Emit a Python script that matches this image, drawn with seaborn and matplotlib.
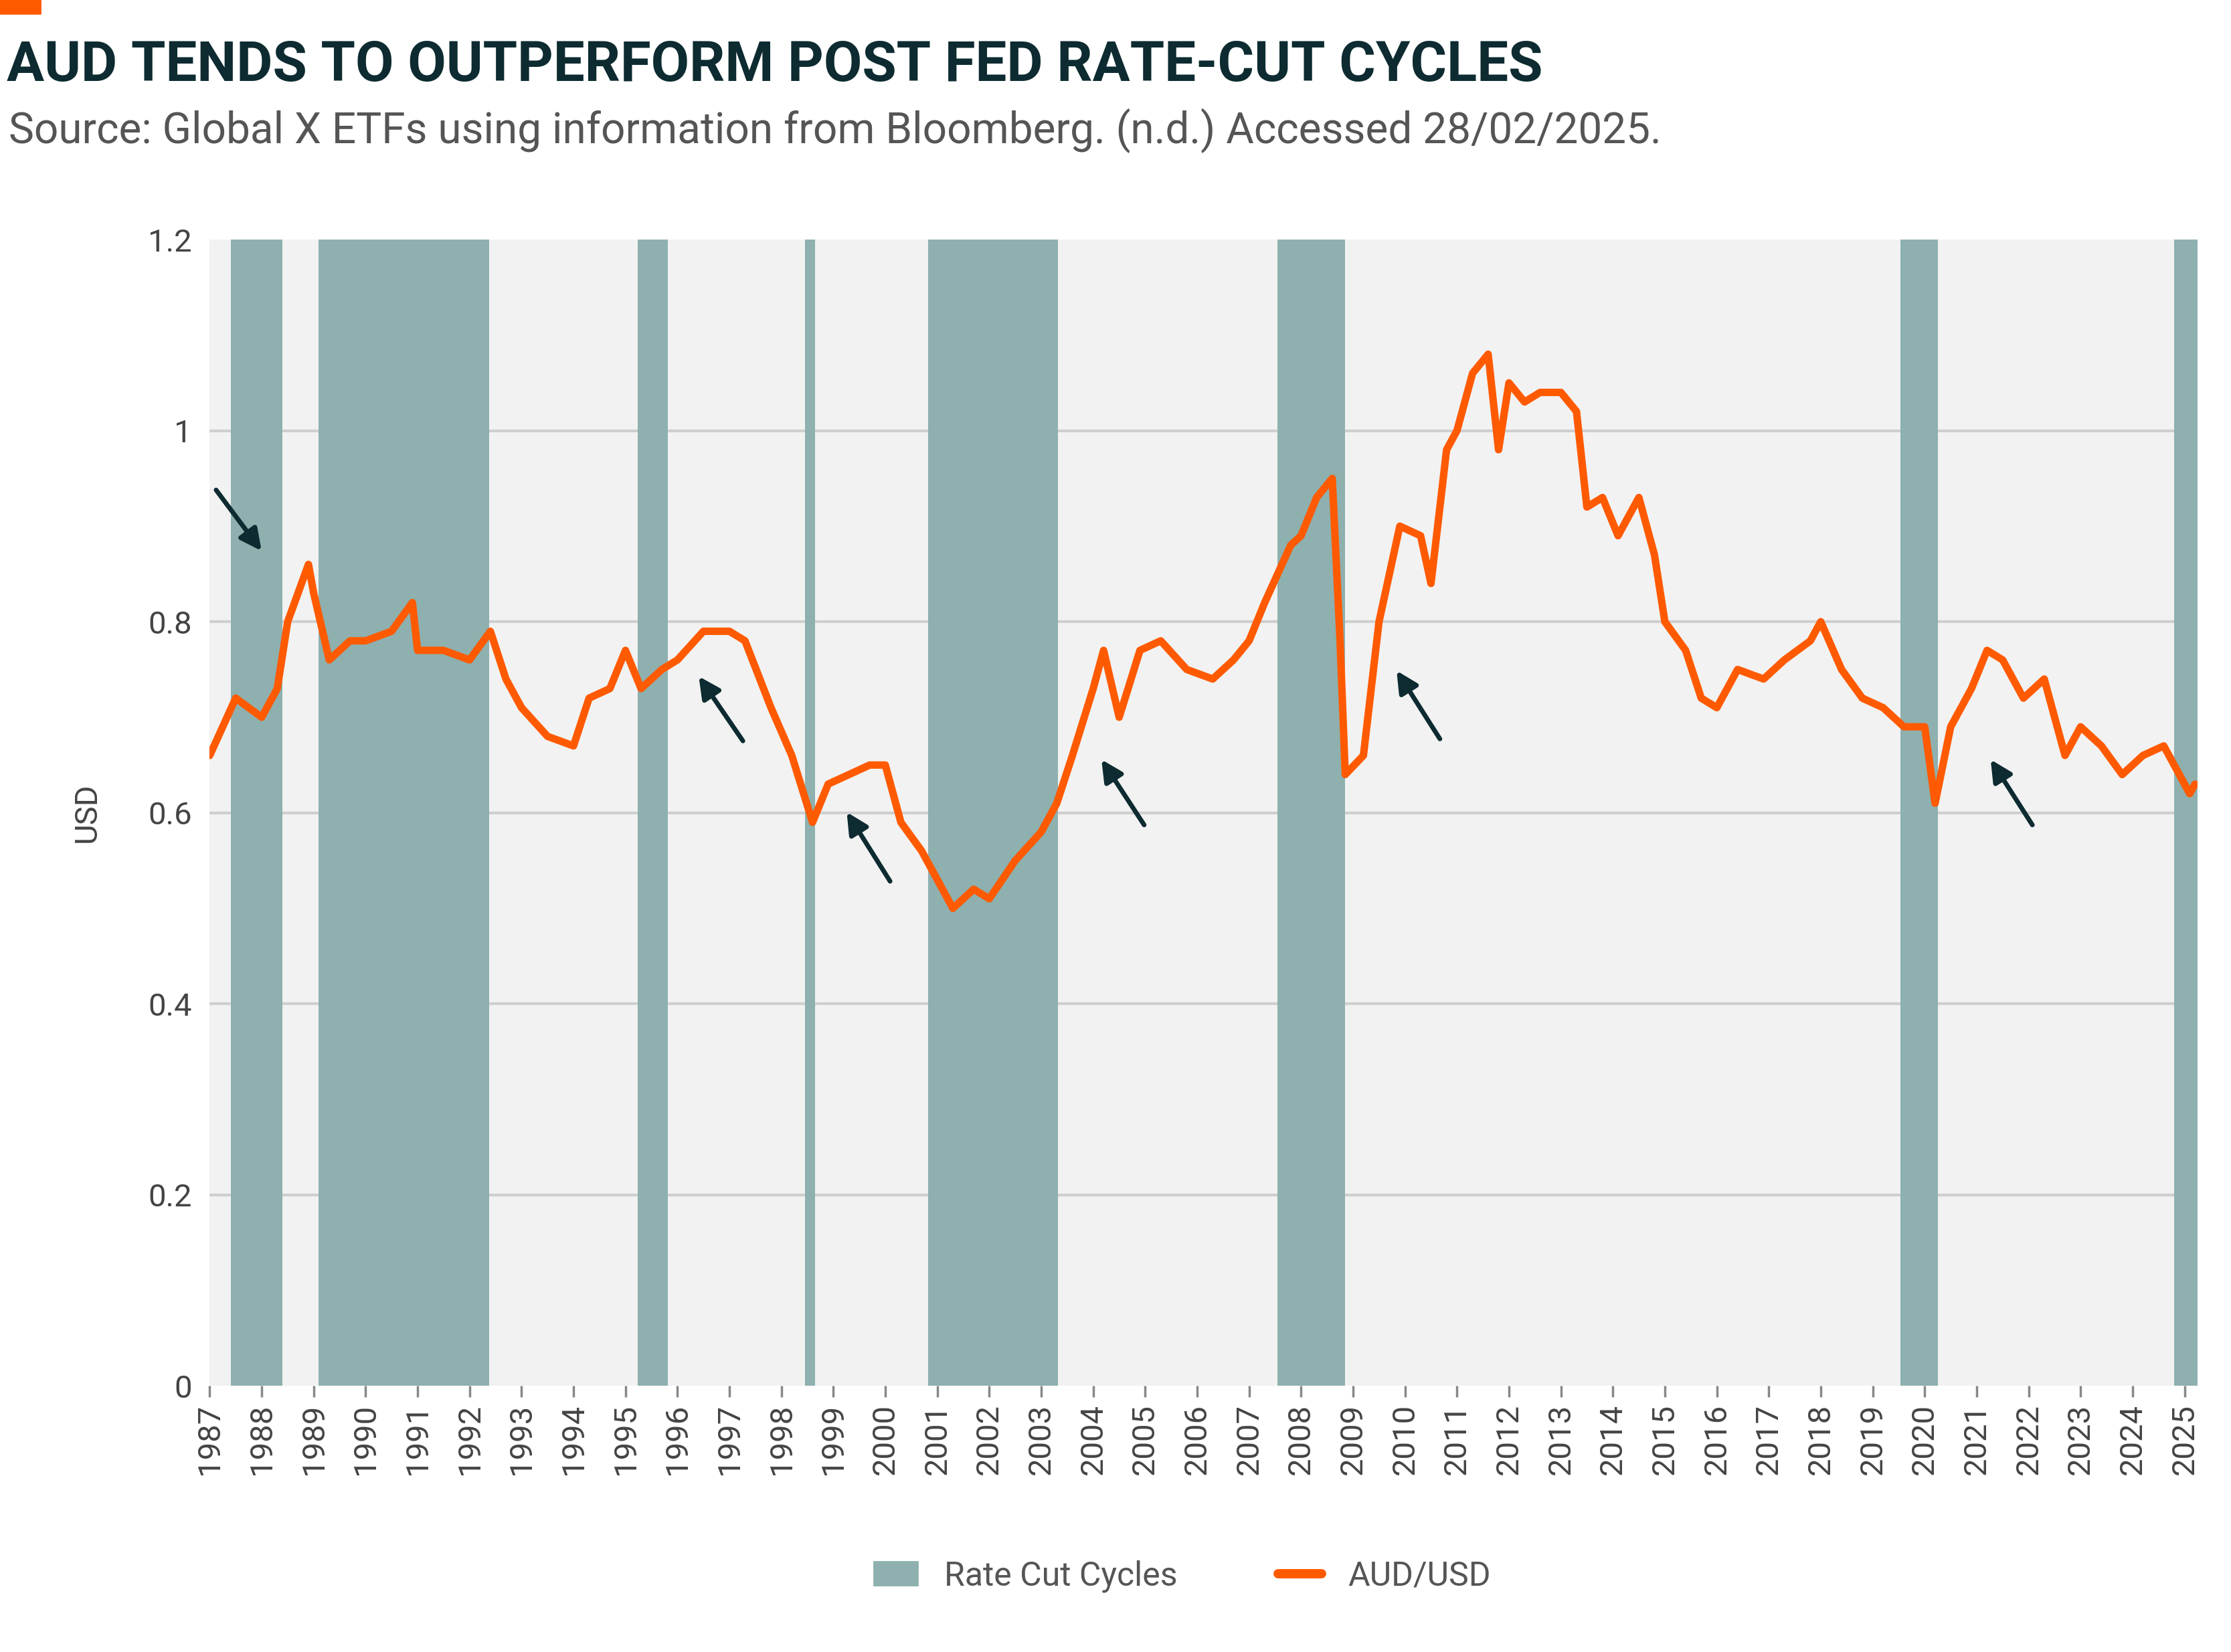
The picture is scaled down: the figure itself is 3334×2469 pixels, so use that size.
import matplotlib
matplotlib.use("Agg")
import matplotlib.pyplot as plt
import seaborn as sns
import pandas as pd
from matplotlib.patches import Rectangle

sns.set_theme(style="white")
plt.rcParams['font.family'] = ['Roboto', 'DejaVu Sans']

years = [1987.0,1987.5,1988.0,1988.3,1988.5,1988.9,1989.0,1989.3,1989.7,1990.0,1990.5,1990.9,1991.0,1991.5,1992.0,1992.4,1992.7,
         1993.0,1993.5,1994.0,1994.3,1994.7,1995.0,1995.3,1995.7,1996.0,1996.5,1997.0,1997.3,1997.8,1998.2,1998.6,1998.9,
         1999.3,1999.7,2000.0,2000.3,2000.7,2001.0,2001.3,2001.7,2002.0,2002.5,2003.0,2003.3,2003.6,2004.0,2004.2,2004.5,
         2004.9,2005.3,2005.8,2006.3,2006.7,2007.0,2007.3,2007.8,2008.0,2008.3,2008.6,2008.75,2008.85,2009.2,2009.5,2009.9,
         2010.3,2010.5,2010.8,2011.0,2011.3,2011.6,2011.8,2012.0,2012.3,2012.6,2013.0,2013.3,2013.5,2013.8,2014.1,2014.5,
         2014.8,2015.0,2015.4,2015.7,2016.0,2016.4,2016.9,2017.3,2017.8,2018.0,2018.4,2018.8,2019.2,2019.6,2020.0,2020.2,
         2020.5,2020.9,2021.2,2021.5,2021.9,2022.3,2022.7,2023.0,2023.4,2023.8,2024.2,2024.6,2024.9,2025.1,2025.2]
audusd = [0.66,0.72,0.70,0.73,0.80,0.86,0.83,0.76,0.78,0.78,0.79,0.82,0.77,0.77,0.76,0.79,0.74,
          0.71,0.68,0.67,0.72,0.73,0.77,0.73,0.75,0.76,0.79,0.79,0.78,0.71,0.66,0.59,0.63,
          0.64,0.65,0.65,0.59,0.56,0.53,0.50,0.52,0.51,0.55,0.58,0.61,0.66,0.73,0.77,0.70,
          0.77,0.78,0.75,0.74,0.76,0.78,0.82,0.88,0.89,0.93,0.95,0.78,0.64,0.66,0.80,0.90,
          0.89,0.84,0.98,1.00,1.06,1.08,0.98,1.05,1.03,1.04,1.04,1.02,0.92,0.93,0.89,0.93,
          0.87,0.80,0.77,0.72,0.71,0.75,0.74,0.76,0.78,0.80,0.75,0.72,0.71,0.69,0.69,0.61,
          0.69,0.73,0.77,0.76,0.72,0.74,0.66,0.69,0.67,0.64,0.66,0.67,0.64,0.62,0.63]
cut_starts = [1987.41,1989.09,1995.24,1998.46,2000.82,2007.55,2019.53,2024.80]
cut_ends   = [1988.40,1992.38,1995.82,1998.65,2003.32,2008.84,2020.25,2025.30]
arrow_tails = [(1987.08,0.941),(1997.3,0.672),(2000.13,0.525),(2005.02,0.584),(2010.71,0.674),(2022.11,0.584)]
arrow_heads = [(1988.04,0.871),(1996.37,0.746),(1999.22,0.604),(2004.12,0.659),(2009.8,0.752),(2021.23,0.659)]
tick_years = list(range(1987, 2026))

df = pd.DataFrame({"year": years, "AUD/USD": audusd})
shade = "#8eb0af"; orange = "#ff5a00"; dark = "#0d2b30"

fig = plt.figure(figsize=(16.67, 12.345), dpi=200)
ax = fig.add_axes([0.094, 0.161, 0.891, 0.694])
ax.set_facecolor("#f2f2f2")
for s, e in zip(cut_starts, cut_ends):
    ax.axvspan(s, e, color=shade, lw=0, zorder=1)
for v in [0.2, 0.4, 0.6, 0.8, 1.0]:
    ax.axhline(v, color="#cfcfcf", lw=1.5, zorder=0.5)
sns.lineplot(data=df, x="year", y="AUD/USD", color=orange, lw=4, ax=ax, zorder=3)
for t, h in zip(arrow_tails, arrow_heads):
    ax.annotate("", xy=h, xytext=t, arrowprops=dict(arrowstyle="-|>,head_length=0.8,head_width=0.4", color=dark, lw=2.5), zorder=4)
ax.set_xlim(1987, 2025.25)
ax.set_ylim(0, 1.2)
ax.set_xticks(tick_years)
ax.set_xticklabels([str(y) for y in tick_years], rotation=90, fontsize=17, color="#444444")
ax.set_yticks([0, 0.2, 0.4, 0.6, 0.8, 1.0, 1.2])
ax.set_yticklabels(["0", "0.2", "0.4", "0.6", "0.8", "1", "1.2"], fontsize=17, color="#444444")
ax.set_xlabel("")
ax.set_ylabel("USD", fontsize=17, color="#444444", labelpad=25)
ax.tick_params(axis="x", length=6, color="#888888", bottom=True)
for sp in ax.spines.values():
    sp.set_visible(False)

fig.text(0.003, 0.96, "AUD TENDS TO OUTPERFORM POST FED RATE-CUT CYCLES", fontsize=30, fontweight="bold", color=dark, va="center")
fig.text(0.004, 0.921, "Source: Global X ETFs using information from Bloomberg. (n.d.) Accessed 28/02/2025.", fontsize=23, color="#555555", va="center")
fig.patches.append(Rectangle((0, 0.992), 0.018, 0.008, transform=fig.transFigure, color=orange))

h1 = Rectangle((0, 0), 1, 1, color=shade)
h2 = plt.Line2D([0], [0], color=orange, lw=5)
fig.legend([h1, h2], ["Rate Cut Cycles", "AUD/USD"], loc="center", bbox_to_anchor=(0.53, 0.046), ncol=2,
           frameon=False, fontsize=18, handlelength=1.3, columnspacing=3, labelcolor="#555555")
fig.savefig("out.png", dpi=200, facecolor="white")
